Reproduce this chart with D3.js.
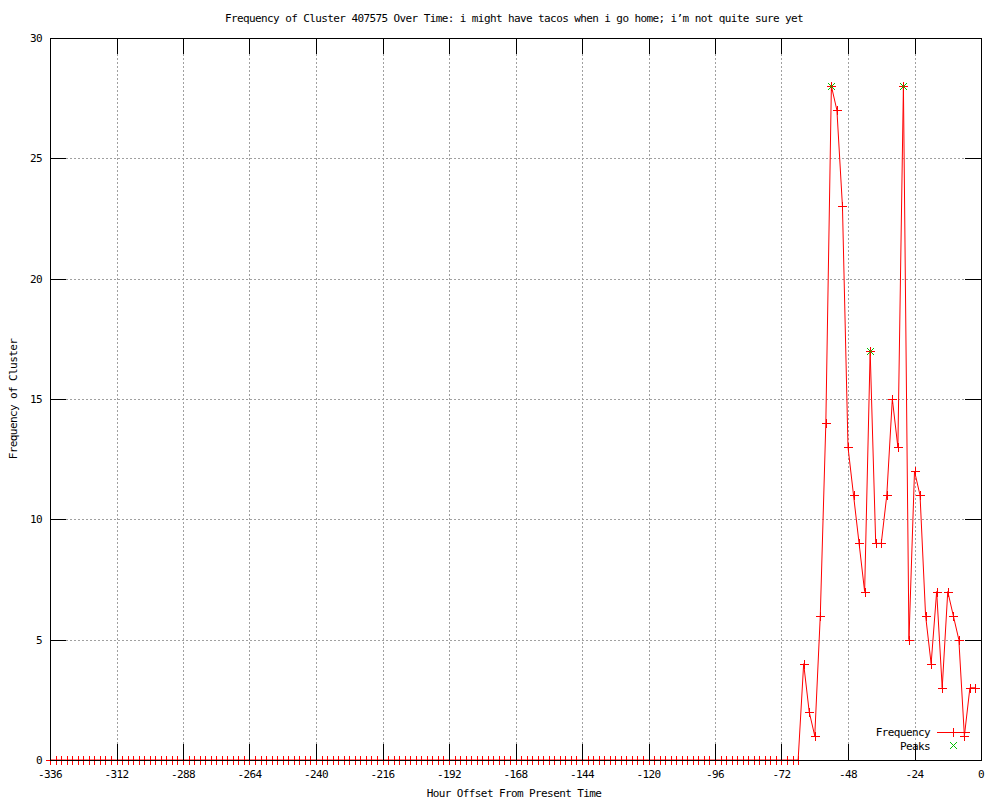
<!DOCTYPE html>
<html>
<head>
<meta charset="utf-8">
<script src="https://cdn.jsdelivr.net/npm/d3@7"></script>
<style>
  html, body { margin: 0; padding: 0; background: #fff; }
  svg text { font-family: "DejaVu Sans Mono", monospace; font-size: 11px; letter-spacing: -0.6px; fill: #000; }
</style>
</head>
<body>
<svg id="chart" width="1000" height="800"></svg>
<script>
// hour offsets, one sample every 2 hours
const hours = d3.range(-336, 0, 2);

// frequency per sample
const frequency = [
  0, 0, 0, 0, 0, 0, 0, 0, 0, 0, 0, 0, 0, 0, 0, 0, 0,
  0, 0, 0, 0, 0, 0, 0, 0, 0, 0, 0, 0, 0, 0, 0, 0, 0,
  0, 0, 0, 0, 0, 0, 0, 0, 0, 0, 0, 0, 0, 0, 0, 0, 0,
  0, 0, 0, 0, 0, 0, 0, 0, 0, 0, 0, 0, 0, 0, 0, 0, 0,
  0, 0, 0, 0, 0, 0, 0, 0, 0, 0, 0, 0, 0, 0, 0, 0, 0,
  0, 0, 0, 0, 0, 0, 0, 0, 0, 0, 0, 0, 0, 0, 0, 0, 0,
  0, 0, 0, 0, 0, 0, 0, 0, 0, 0, 0, 0, 0, 0, 0, 0, 0,
  0, 0, 0, 0, 0, 0, 0, 0, 0, 0, 0, 0, 0, 0, 0, 0, 0,
  4, 2, 1, 6, 14, 28, 27, 23, 13, 11, 9, 7, 17, 9, 9, 11,
  15, 13, 28, 5, 12, 11, 6, 4, 7, 3, 7, 6, 5, 1, 3, 3
];

const peakHours = [-54, -40, -28];
const peakValues = [28, 17, 28];

const xTicks = d3.range(-336, 1, 24);
const yTicks = [0, 5, 10, 15, 20, 25, 30];

const titleText = "Frequency of Cluster 407575 Over Time: i might have tacos when i go home; i\u2019m not quite sure yet";

const svg = d3.select("#chart");
const plotLeft = 50, plotRight = 981, plotTop = 38, plotBottom = 760;

const x = d3.scaleLinear().domain([-336, 0]).range([plotLeft, plotRight]);
const y = d3.scaleLinear().domain([0, 30]).range([plotBottom, plotTop]);

const red = "#ff0000";
const green = "#00c000";
const tic = 16;

// grid
const grid = svg.append("g")
  .attr("stroke", "#a0a0a0")
  .attr("stroke-dasharray", "2,2")
  .attr("shape-rendering", "crispEdges");
grid.selectAll(".gx")
  .data(xTicks.filter(d => d > -336 && d < 0))
  .join("line")
  .attr("x1", d => Math.round(x(d)) + 0.5).attr("x2", d => Math.round(x(d)) + 0.5)
  .attr("y1", plotTop).attr("y2", plotBottom);
grid.selectAll(".gy")
  .data(yTicks.filter(d => d > 0 && d < 30))
  .join("line")
  .attr("y1", d => Math.round(y(d)) + 0.5).attr("y2", d => Math.round(y(d)) + 0.5)
  .attr("x1", plotLeft).attr("x2", plotRight);

// data line + markers
const pts = hours.map((h, i) => [h, frequency[i]]);
svg.append("path")
  .datum(pts)
  .attr("fill", "none")
  .attr("stroke", red)
  .attr("stroke-width", 1)
  .attr("d", d3.line().x(d => x(d[0])).y(d => y(d[1])));

const plus = (g, cx, cy, col) => {
  g.append("path")
    .attr("d", `M${cx - 4.5},${cy}H${cx + 4.5}M${cx},${cy - 4.5}V${cy + 4.5}`)
    .attr("stroke", col).attr("stroke-width", 1).attr("fill", "none");
};
const cross = (g, cx, cy, col) => {
  g.append("path")
    .attr("d", `M${cx - 3.5},${cy - 3.5}L${cx + 3.5},${cy + 3.5}M${cx - 3.5},${cy + 3.5}L${cx + 3.5},${cy - 3.5}`)
    .attr("stroke", col).attr("stroke-width", 1).attr("fill", "none");
};

const markG = svg.append("g").attr("shape-rendering", "crispEdges");
pts.forEach(d => plus(markG, Math.round(x(d[0])) + 0.5, Math.round(y(d[1])) + 0.5, red));

const peakG = svg.append("g");
peakHours.forEach((h, i) => cross(peakG, Math.round(x(h)) + 0.5, Math.round(y(peakValues[i])) + 0.5, green));

// border + tics (front)
const axisG = svg.append("g").attr("stroke", "#000").attr("shape-rendering", "crispEdges");
axisG.append("rect")
  .attr("x", plotLeft + 0.5).attr("y", plotTop + 0.5)
  .attr("width", plotRight - plotLeft).attr("height", plotBottom - plotTop)
  .attr("fill", "none");
xTicks.forEach(d => {
  const px = Math.round(x(d)) + 0.5;
  axisG.append("line").attr("x1", px).attr("x2", px).attr("y1", plotBottom).attr("y2", plotBottom - tic);
  axisG.append("line").attr("x1", px).attr("x2", px).attr("y1", plotTop).attr("y2", plotTop + tic);
});
yTicks.forEach(d => {
  const py = Math.round(y(d)) + 0.5;
  axisG.append("line").attr("y1", py).attr("y2", py).attr("x1", plotLeft).attr("x2", plotLeft + tic);
  axisG.append("line").attr("y1", py).attr("y2", py).attr("x1", plotRight).attr("x2", plotRight - tic);
});

// tick labels
svg.append("g").selectAll("text")
  .data(xTicks)
  .join("text")
  .attr("x", d => x(d))
  .attr("y", plotBottom + 18)
  .attr("text-anchor", "middle")
  .text(d => d === 0 ? "0" : String(d).replace("\u2212", "-"));

svg.append("g").selectAll("text")
  .data(yTicks)
  .join("text")
  .attr("x", plotLeft - 8)
  .attr("y", d => y(d) + 4)
  .attr("text-anchor", "end")
  .text(d => d);

// titles
svg.append("text")
  .attr("x", 514).attr("y", 22)
  .attr("text-anchor", "middle")
  .text(titleText);

svg.append("text")
  .attr("x", 514).attr("y", 797)
  .attr("text-anchor", "middle")
  .text("Hour Offset From Present Time");

svg.append("text")
  .attr("transform", `translate(17,${(plotTop + plotBottom) / 2}) rotate(-90)`)
  .attr("text-anchor", "middle")
  .text("Frequency of Cluster");

// legend
const legG = svg.append("g");
legG.append("text").attr("x", 930).attr("y", 736).attr("text-anchor", "end").text("Frequency");
legG.append("line")
  .attr("x1", 937).attr("x2", 970).attr("y1", 732.5).attr("y2", 732.5)
  .attr("stroke", red).attr("shape-rendering", "crispEdges");
plus(legG, 953.5, 732.5, red);
legG.append("text").attr("x", 930).attr("y", 750).attr("text-anchor", "end").text("Peaks");
cross(legG, 953.5, 745.5, green);
</script>
</body>
</html>
